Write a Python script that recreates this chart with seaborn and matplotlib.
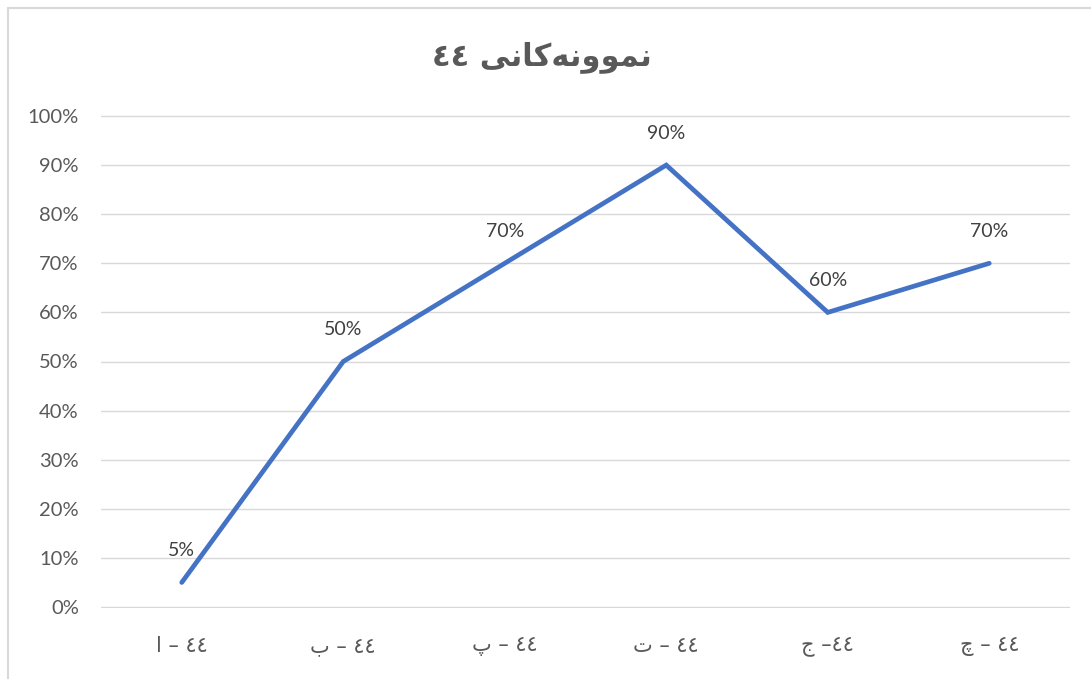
import matplotlib
matplotlib.use("Agg")
import matplotlib.pyplot as plt
from matplotlib.lines import Line2D
import seaborn as sns
import pandas as pd

# Chart data (Arabic-script text stored in visual left-to-right order,
# with contextual presentation forms, since matplotlib does no shaping)
categories = ["ا – ٤٤", "ب – ٤٤", "پ – ٤٤", "ت – ٤٤", "ج –٤٤", "چ – ٤٤"]
values = [0.05, 0.50, 0.70, 0.90, 0.60, 0.70]
value_labels = ["5%", "50%", "70%", "90%", "60%", "70%"]
y_ticks = [0.0, 0.1, 0.2, 0.3, 0.4, 0.5, 0.6, 0.7, 0.8, 0.9, 1.0]
y_tick_labels = ["0%", "10%", "20%", "30%", "40%", "50%", "60%", "70%", "80%", "90%", "100%"]
title = "٤٤ " + "\uFEF0\uFEE7\uFE8E\uFB90\uFEEA\uFEE7\uFEED\uFEEE\uFEE4\uFEE7"

sns.set_theme(style="white")
plt.rcParams["font.family"] = ["Lato", "DejaVu Sans"]

W, H = 1091, 679
fig = plt.figure(figsize=(W / 100, H / 100), dpi=100)
ax = fig.add_axes([101 / W, 71 / H, (1070 - 101) / W, (608 - 115) / H])

df = pd.DataFrame({"cat": categories, "val": values})
df["pos"] = range(len(df))
sns.lineplot(data=df, x="pos", y="val", ax=ax, color="#4472C4",
             linewidth=3.4, solid_capstyle="round", solid_joinstyle="miter",
             zorder=3, clip_on=False)

ax.set_xlim(-0.5, len(categories) - 0.5)
ax.set_ylim(-0.002, 1.002)
ax.set_yticks(y_ticks)
ax.set_yticklabels(y_tick_labels)
ax.set_xticks(range(len(categories)))
ax.set_xticklabels(categories, family=["DejaVu Sans"], fontsize=15)
ax.set_xlabel("")
ax.set_ylabel("")

ax.grid(axis="y", color="#D9D9D9", linewidth=1.0)
ax.grid(axis="x", visible=False)
for s in ax.spines.values():
    s.set_visible(False)
ax.tick_params(axis="both", length=0, colors="#595959")
ax.tick_params(axis="y", pad=16, labelsize=14.5)
ax.tick_params(axis="x", pad=20)

for i, (v, lab) in enumerate(zip(values, value_labels)):
    ax.annotate(lab, (i, v), xytext=(0, 23), textcoords="offset points",
                ha="center", va="center", fontsize=14, color="#404040")

fig.text(542 / W, 1 - 57 / H, title, ha="center", va="center",
         fontsize=22, fontweight="bold", color="#595959",
         family=["DejaVu Sans"])

# light chart-area frame
fig.add_artist(Line2D([7.5 / W, 7.5 / W], [0, 1 - 7.5 / H],
                      transform=fig.transFigure, color="#D9D9D9", linewidth=1.5))
fig.add_artist(Line2D([7.5 / W, 1], [1 - 7.5 / H, 1 - 7.5 / H],
                      transform=fig.transFigure, color="#D9D9D9", linewidth=1.5))

fig.savefig("out.png", dpi=100, facecolor="white")
